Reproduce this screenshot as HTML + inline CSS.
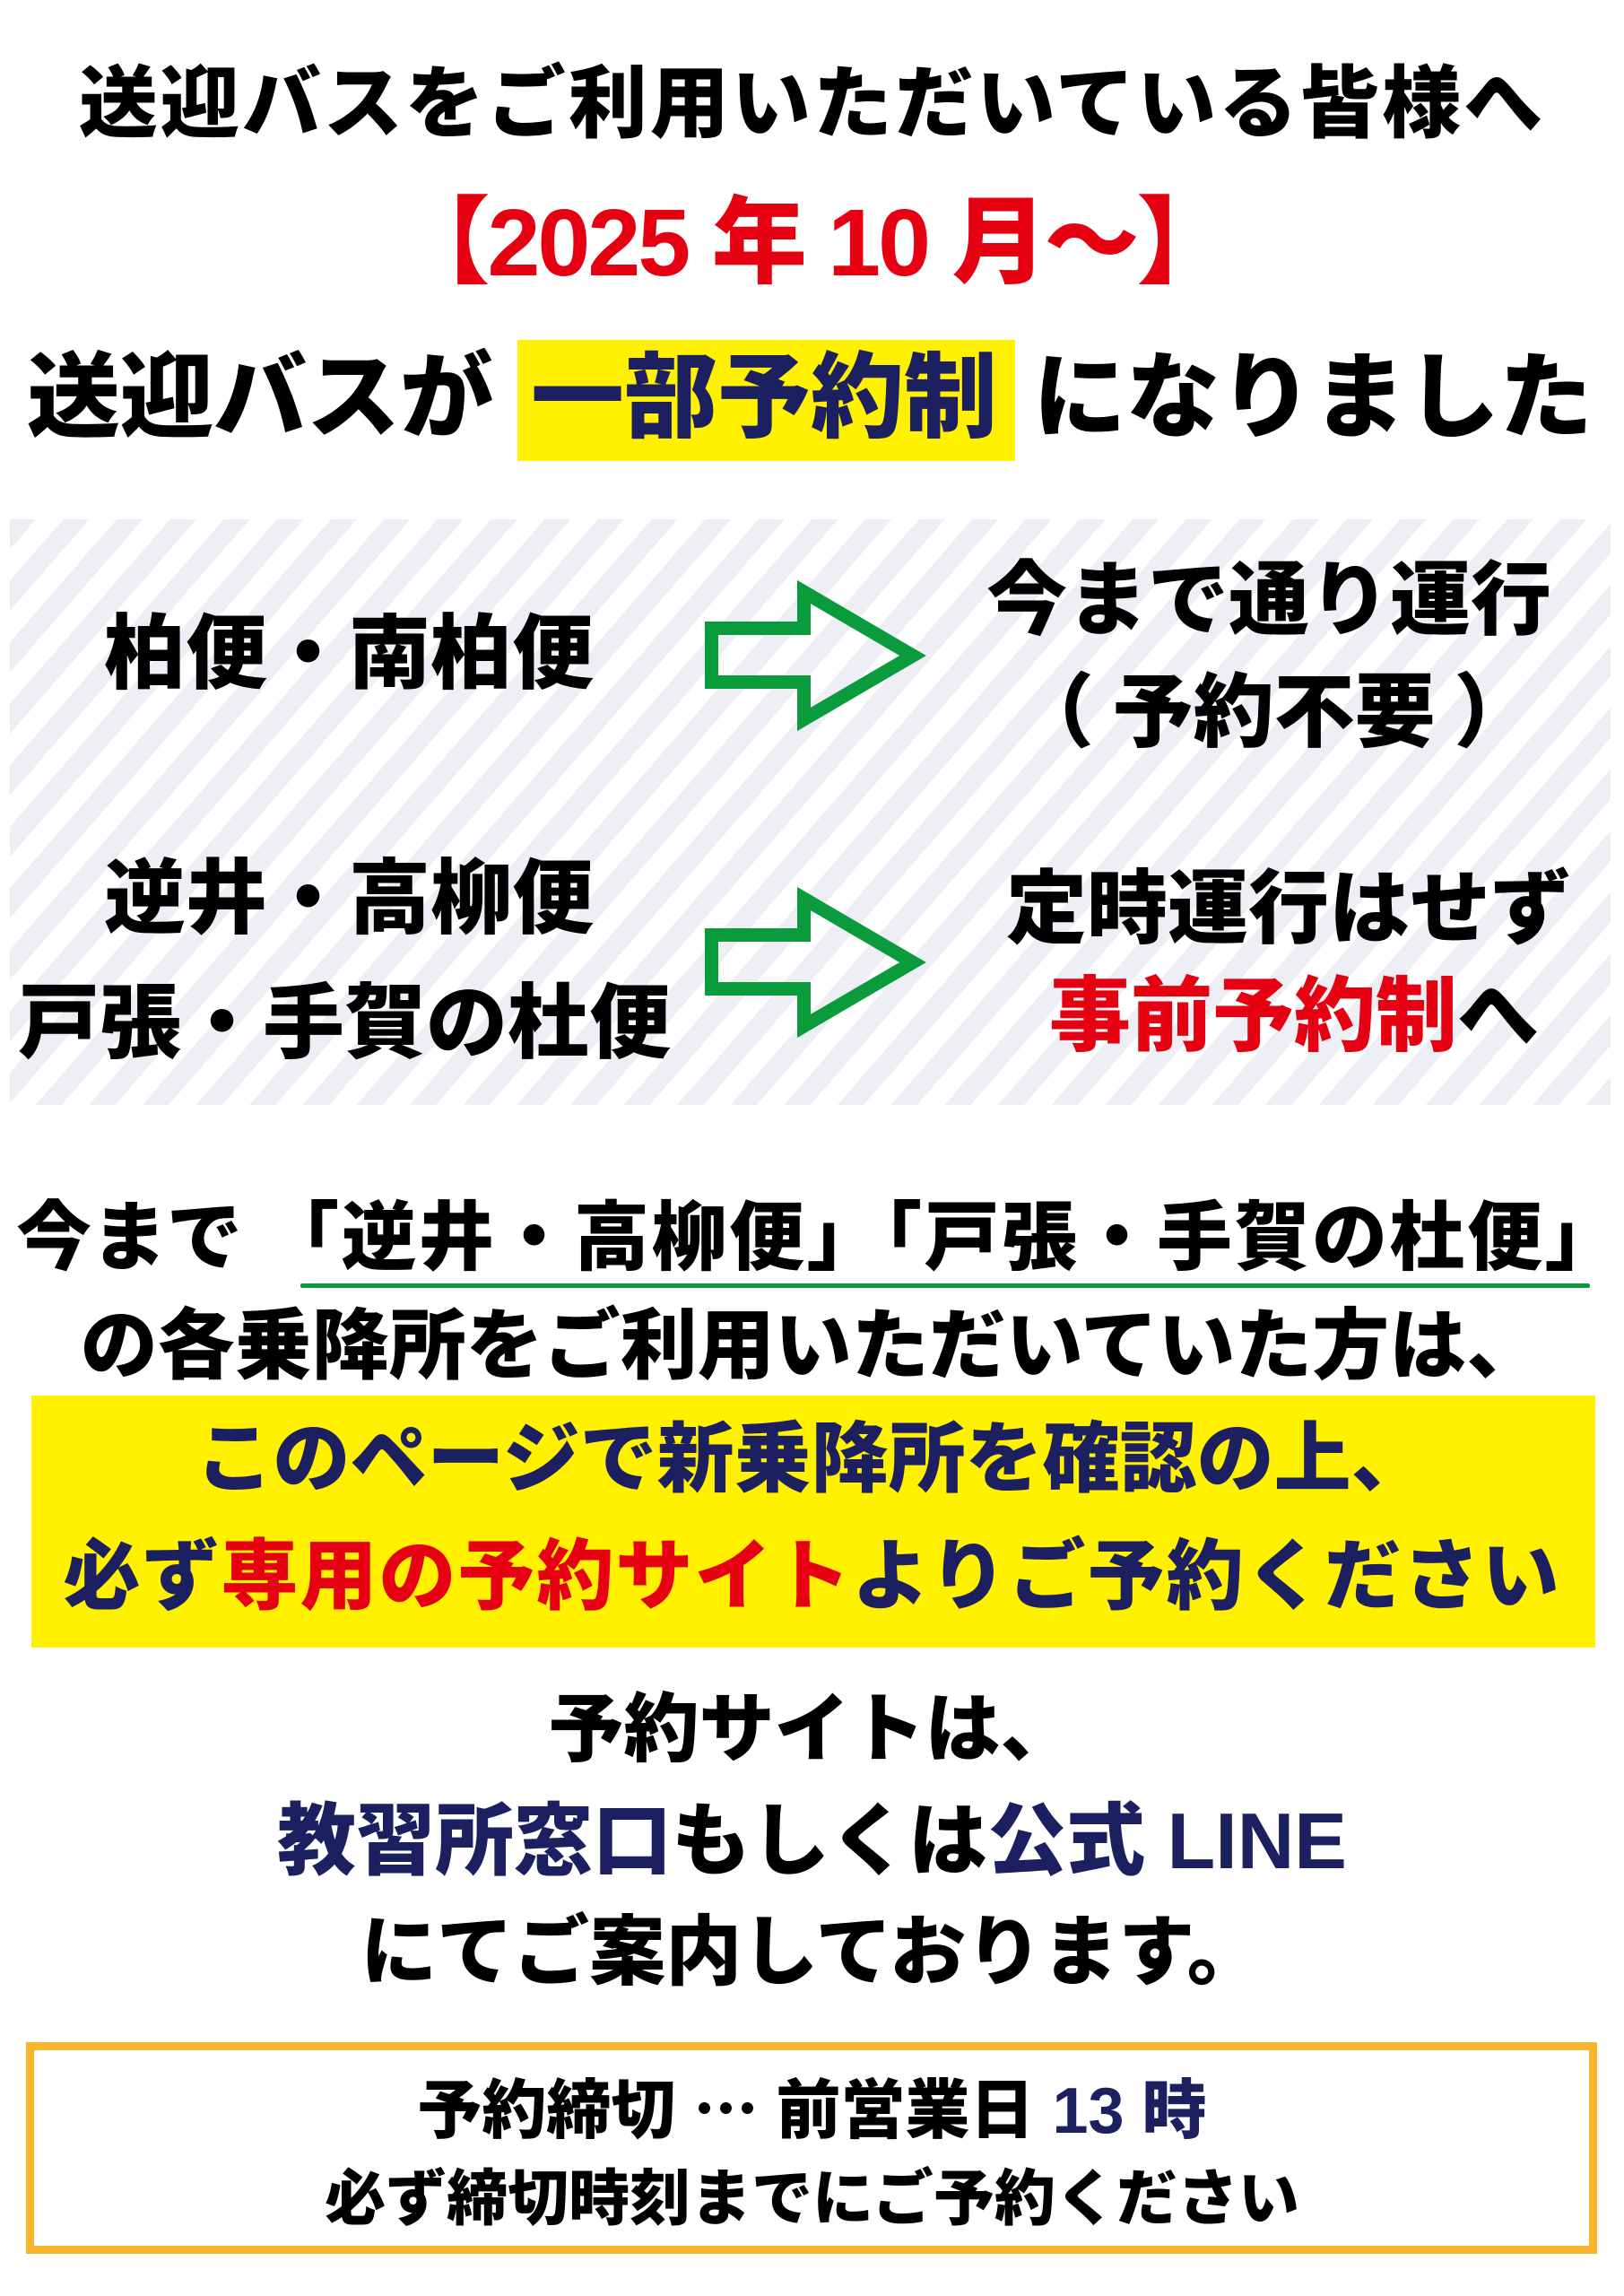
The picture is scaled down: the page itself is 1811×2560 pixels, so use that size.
<!DOCTYPE html>
<html><head><meta charset="utf-8"><style>
html,body{margin:0;padding:0;background:#fff;}
body{width:1811px;height:2560px;position:relative;overflow:hidden;font-family:"Liberation Sans","Noto Sans CJK JP",sans-serif;font-weight:900;color:#000;}
.t{position:absolute;white-space:nowrap;line-height:1;text-align:center;}
.r{color:#e50012}.n{color:#1d2060}
.j{font-family:"Noto Sans CJK JP",sans-serif;}
</style></head><body>
<div class="t" style="left:0;width:1811px;top:72px;font-size:88px;letter-spacing:3px;">送迎バスをご利用いただいている皆様へ</div>
<div class="t r" style="left:0;width:1811px;top:218px;font-size:106px;letter-spacing:-3px;">【2025 年 10 月～】</div>
<div style="position:absolute;left:577px;top:379px;width:555px;height:135px;background:#fff100;"></div>
<div class="t" style="left:30px;top:392px;font-size:104px;">送迎バスが</div>
<div class="t n" style="left:592px;top:392px;font-size:104px;">一部予約制</div>
<div class="t" style="left:1152px;top:392px;font-size:104px;">になりました</div>

<div style="position:absolute;left:11px;top:579px;width:1785px;height:653px;background:repeating-linear-gradient(131deg,#eeeff5 0 22px,#fff 22px 45px);"></div>
<svg style="position:absolute;left:0;top:0" width="1811" height="2560">
<polygon points="793.5,700.5 896.5,700.5 896.5,660 1018,731 896.5,802 896.5,760.5 793.5,760.5" fill="none" stroke="#0a9b3c" stroke-width="15"/>
<polygon points="793.5,1042.5 896.5,1042.5 896.5,1002 1018,1073 896.5,1144 896.5,1102.5 793.5,1102.5" fill="none" stroke="#0a9b3c" stroke-width="15"/>
<rect x="335" y="1431" width="1438" height="5" rx="2" fill="#0a9b3c"/>
</svg>
<div class="t" style="left:116px;top:684px;font-size:91px;">柏便・南柏便</div>
<div class="t" style="left:1100px;top:625px;font-size:90px;">今まで通り運行</div>
<div class="t j" style="left:1130px;top:741px;font-size:90px;">（ 予約不要 ）</div>
<div class="t" style="left:116px;top:957px;font-size:91px;">逆井・高柳便</div>
<div class="t" style="left:20px;top:1096px;font-size:91px;">戸張・手賀の杜便</div>
<div class="t" style="left:1122px;top:969px;font-size:90px;">定時運行はせず</div>
<div class="t" style="left:1170px;top:1088px;font-size:91px;"><span class="r">事前予約制</span>へ</div>

<div class="t j" style="left:18px;top:1332px;font-size:84px;">今まで<span style="margin-left:24px;letter-spacing:2.5px">「逆井・高柳便」「戸張・手賀の杜便」</span></div>
<div class="t" style="left:0;width:1811px;top:1458px;font-size:86px;">の各乗降所をご利用いただいていた方は、</div>
<div style="position:absolute;left:35px;top:1556px;width:1744px;height:281px;background:#fff100;"></div>
<div class="t n" style="left:0;width:1811px;top:1584px;font-size:86px;">このページで新乗降所を確認の上、</div>
<div class="t n" style="left:0;width:1811px;top:1715px;font-size:86px;letter-spacing:2px;">必ず<span class="r">専用の予約サイト</span>よりご予約ください</div>
<div class="t" style="left:0;width:1811px;top:1886px;font-size:84px;">予約サイトは、</div>
<div class="t" style="left:0;width:1811px;top:2009px;font-size:88px;"><span class="n">教習所窓口</span>もしくは<span class="n">公式 LINE</span></div>
<div class="t" style="left:0;width:1811px;top:2135px;font-size:85px;">にてご案内しております。</div>
<div style="position:absolute;left:29px;top:2277px;width:1734px;height:218px;border:9px solid #f8b62d;"></div>
<div class="t" style="left:0;width:1811px;top:2311px;font-size:72px;">予約締切 <span class="j">…</span> 前営業日 <span class="n">13 時</span></div>
<div class="t" style="left:0;width:1811px;top:2418px;font-size:68px;">必ず締切時刻までにご予約ください</div>
</body></html>
